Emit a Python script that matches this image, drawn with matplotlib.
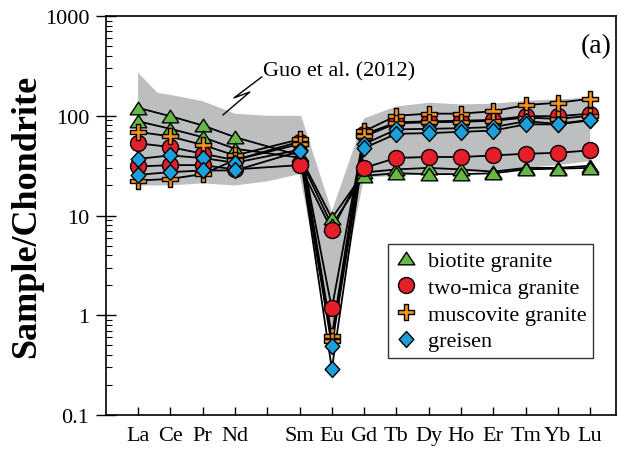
import numpy as np
import matplotlib
matplotlib.use("Agg")
import matplotlib.pyplot as plt
from matplotlib.path import Path
from matplotlib.lines import Line2D

plt.rcParams['font.family'] = ['Liberation Serif', 'DejaVu Serif']

# REE chondrite normalised patterns (Pm left blank at position 5)
ree = ['La', 'Ce', 'Pr', 'Nd', 'Sm', 'Eu', 'Gd', 'Tb', 'Dy', 'Ho', 'Er', 'Tm', 'Yb', 'Lu']
ree_pos = [1, 2, 3, 4, 6, 7, 8, 9, 10, 11, 12, 13, 14, 15]
tick_pos = list(range(1, 16))
tick_lab = ['La', 'Ce', 'Pr', 'Nd', '', 'Sm', 'Eu', 'Gd', 'Tb', 'Dy', 'Ho', 'Er', 'Tm', 'Yb', 'Lu']

# biotite granite
bt1 = [120, 99, 80, 61, 40, 9.4, 27, 29, 30, 29, 27.5, 30, 30, 31.5]
bt2 = [88, 74, 61, 46.7, 38, 8.0, 25, 26.5, 26, 26, 26.5, 29, 29.5, 30]
# two-mica granite
tm1 = [53, 48.6, 41.6, 36, 55, 1.17, 65, 86, 88, 89, 91, 99, 99, 105]
tm2 = [31, 32, 32, 29, 32, 7.1, 30, 37.8, 38.6, 38.6, 40, 41.6, 42.5, 45]
# muscovite granite
ms1 = [69, 62, 51, 40, 58, 0.62, 70, 100, 105, 105, 111, 128, 135, 148]
ms2 = [22.4, 23.3, 26, 36, 52, 0.55, 62, 84, 86, 87, 89, 96, 93, 100]
# greisen
gr1 = [37, 40, 37.7, 33.8, 45.6, 0.49, 52, 73, 74, 75, 77, 88, 83, 91]
gr2 = [25.6, 27.2, 28.3, 28.3, 44, 0.29, 47.5, 66, 67, 69, 71, 82, 82, 90]

# Guo et al. (2012) field
band_top_x = [1, 1.6, 2, 3, 4, 5, 6.05, 7, 8.0, 9, 10, 11, 12, 13, 14, 15]
band_top_y = [270, 170, 162, 140, 105, 100, 100, 11, 94, 124, 135, 130, 132, 141, 146, 152]
band_bot_x = [15, 14, 13, 12, 11, 10, 9, 8, 7, 6, 5, 4, 3, 2, 1]
band_bot_y = [35, 32, 30, 28, 27, 26, 25, 24, 0.6, 26, 22, 20, 21, 20, 20]

# custom markers
tri = Path([(-1, -0.76), (1, -0.76), (0, 0.76), (-1, -0.76)],
           [Path.MOVETO, Path.LINETO, Path.LINETO, Path.CLOSEPOLY])
w = 0.3
plus_v = [(-w, 1), (w, 1), (w, w), (1, w), (1, -w), (w, -w), (w, -1), (-w, -1),
          (-w, -w), (-1, -w), (-1, w), (-w, w), (-w, 1)]
plus = Path(plus_v, [Path.MOVETO] + [Path.LINETO] * 11 + [Path.CLOSEPOLY])
diam = Path([(0, 1), (0.92, 0), (0, -1), (-0.92, 0), (0, 1)],
            [Path.MOVETO, Path.LINETO, Path.LINETO, Path.LINETO, Path.CLOSEPOLY])

groups = [
    ('biotite granite', [bt1, bt2], tri, '#66B845', 12.0),
    ('two-mica granite', [tm1, tm2], 'o', '#E41F2A', 11.5),
    ('muscovite granite', [ms1, ms2], plus, '#F6921E', 11.5),
    ('greisen', [gr1, gr2], diam, '#1BA0DC', 11.5),
]

fig = plt.figure(figsize=(6.26, 4.56), dpi=100)
ax = fig.add_axes([0.169, 0.0877, 0.815, 0.875])

bx = band_top_x + band_bot_x
by = band_top_y + band_bot_y
ax.fill(bx, by, color='#BCBEC0', lw=0, zorder=1)

for name, samples, mk, col, ms in groups:
    for s in samples:
        ax.plot(ree_pos, s, color='black', lw=1.3, zorder=2)

for i, (name, samples, mk, col, ms) in enumerate(groups):
    for s in samples:
        ax.plot(ree_pos, s, ls='none', marker=mk, ms=ms, mfc=col, mec='black',
                mew=1.0, zorder=3 + i)

ax.set_yscale('log')
ax.set_ylim(0.1, 1000)
ax.set_xlim(0, 15.8)
ax.set_yticks([0.1, 1, 10, 100, 1000])
ax.set_yticklabels(['0.1', '1', '10', '100', '1000'])
ax.set_xticks(tick_pos)
ax.set_xticklabels(tick_lab)
ax.tick_params(axis='x', direction='in', length=5.5, width=1, labelsize=16, pad=8)
ax.tick_params(axis='y', which='major', direction='inout', length=14, width=1,
               labelsize=16, pad=5)
ax.tick_params(axis='y', which='minor', direction='in', length=4, width=0.8)
for sp in ax.spines.values():
    sp.set_linewidth(1.2)

ax.set_ylabel('Sample/Chondrite', fontsize=26, fontweight='bold')
ax.yaxis.set_label_coords(-0.122, 0.5)

# Guo et al. field label with zig-zag pointer
zx = [3.63, 4.46, 3.97, 4.83]
zy = [102, 173, 151, 245]
ax.plot(zx, zy, color='black', lw=1.0, zorder=6)
ax.text(4.87, 251, 'Guo et al. (2012)', fontsize=16, ha='left', va='baseline')

ax.text(0.961, 0.925, '(a)', transform=ax.transAxes, fontsize=20,
        ha='center', va='center')

handles = [Line2D([], [], ls='none', marker=mk, ms=ms, mfc=col, mec='black', mew=1.0)
           for name, samples, mk, col, ms in groups]
labels = [g[0] for g in groups]
leg = ax.legend(handles, labels, loc='upper left', bbox_to_anchor=(0.553, 0.429),
                fontsize=16, frameon=True, fancybox=False, framealpha=1,
                edgecolor='#333333', handlelength=1.0, handletextpad=0.5,
                labelspacing=0.28, borderpad=0.3, borderaxespad=0)
leg.get_frame().set_linewidth(1.0)
leg.set_zorder(10)

fig.savefig('out.png', dpi=100)
